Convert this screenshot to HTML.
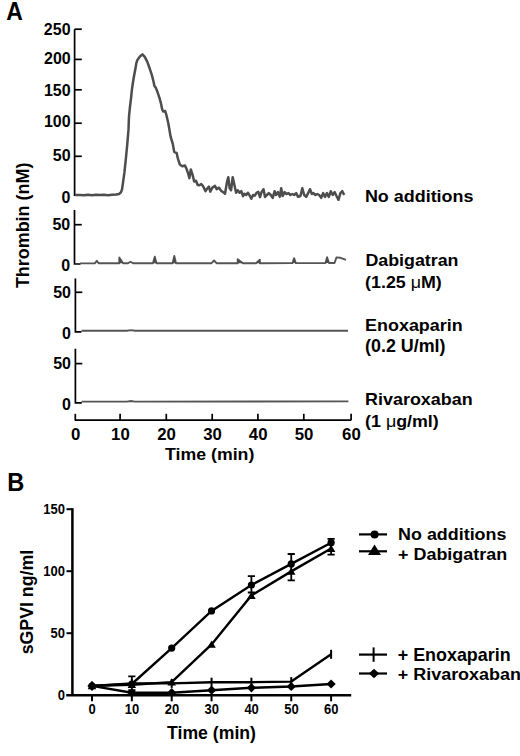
<!DOCTYPE html>
<html><head><meta charset="utf-8"><style>
html,body{margin:0;padding:0;background:#fff;overflow:hidden;}
svg{display:block;}
text{font-family:"Liberation Sans",sans-serif;font-weight:bold;fill:#000;}
</style></head><body>
<svg width="520" height="756" viewBox="0 0 520 756">
<rect width="520" height="756" fill="#fff"/>
<text transform="translate(6.23,20.05) scale(1,1.1431)" font-size="22.951" fill="#000"><tspan>A</tspan></text>
<path d="M74.6 29.2 V195.2 H81" stroke="#000" stroke-width="1.7" fill="none"/>
<path d="M74.6 29.2 H81.8" stroke="#000" stroke-width="1.7" fill="none"/>
<path d="M74.6 59.4 H81.8" stroke="#000" stroke-width="1.7" fill="none"/>
<path d="M74.6 89.8 H81.8" stroke="#000" stroke-width="1.7" fill="none"/>
<path d="M74.6 123.2 H81.8" stroke="#000" stroke-width="1.7" fill="none"/>
<path d="M74.6 156.3 H81.8" stroke="#000" stroke-width="1.7" fill="none"/>
<text transform="translate(70.55,34.60) scale(1,1.0400)" font-size="16" text-anchor="end">250</text>
<text transform="translate(70.75,63.50) scale(1,1.0400)" font-size="16" text-anchor="end">200</text>
<text transform="translate(70.65,95.85) scale(1,1.0400)" font-size="16" text-anchor="end">150</text>
<text transform="translate(70.65,127.15) scale(1,1.0400)" font-size="16" text-anchor="end">100</text>
<text transform="translate(70.55,160.85) scale(1,1.0400)" font-size="16" text-anchor="end">50</text>
<text transform="translate(70.35,202.75) scale(1,1.0400)" font-size="16" text-anchor="end">0</text>
<path d="M75 195 L80 194.9 L84 195.3 L88 194.8 L92 195.2 L96 194.7 L100 195.1 L104 194.8 L108 195.2 L112 194.8 L116 194.6 L119 194 L120.8 192.6 L122 189.5 L123 182.8 L124.4 172.7 L125.9 158.3 L127.3 143.9 L128.5 129.4 L129 116.4 L130 106.5 L131 98.6 L131.9 89.6 L132.9 82.7 L133.9 76.7 L135.4 68.8 L136.4 62.9 L137.4 59.9 L139.9 56.4 L142.4 54.4 L144.8 56.9 L147.3 61.9 L149.8 68.8 L151.8 74.8 L153.8 82.7 L154.3 85.7 L155.8 87.7 L157.7 92.6 L159.7 98.6 L161.2 104.5 L162.2 109.5 L163.2 111.5 L165.2 111 L166.4 115 L168.4 123.7 L170.6 136.6 L172.8 143.9 L174.2 151.8 L176.7 153.2 L177.8 158.3 L180 164.8 L182.2 166.2 L185 165.5 L186.4 168.6 L188.2 173.7 L189.4 178.1 L190.8 169.4 L192.5 174.6 L194.2 181.5 L196 180.7 L197.7 185 L199.4 185.3 L201.2 184.1 L202.9 185.9 L205.5 191.1 L207.2 188.5 L208.9 186.7 L210.3 191.6 L212.4 187.6 L215 185.9 L216.7 189.3 L218.8 187.6 L221.1 190.7 L222.8 191.9 L225 193.7 L227.1 181.5 L228.3 177.2 L229.7 188.5 L231.1 190.2 L232.7 177.2 L234.4 185 L236.1 192.8 L237.8 190.2 L239.6 192.8 L241.3 191.1 L243 196.2 L244.4 193.7 L246.2 195 L247.9 192.8 L249.6 195.4 L251.3 198.8 L253.1 195 L254.8 195.7 L256.5 192.8 L258.3 191.9 L260 197.1 L261.5 192.1 L263.5 189.2 L265 196.9 L266.9 195 L268.8 193.1 L270.8 195 L272.7 197.9 L274.6 191.2 L276 195 L277.9 192.1 L279.8 196.9 L281.2 188.3 L282.7 196 L284.6 192.1 L286.5 194 L288.5 193.1 L290.4 195 L292.3 194 L294.2 195 L296.2 193.1 L298.1 196.9 L300.4 196 L302.3 188.3 L304.2 195 L306.2 196.9 L308.1 193.1 L310 189.2 L311.9 194 L313.5 193.1 L315.4 195 L317.3 194 L319.2 195 L321.2 197.9 L323.1 193.1 L325 196.9 L326.9 193.1 L328.8 196.9 L330.8 191.2 L332.7 195 L334.6 192.1 L336.5 196 L338.5 199.8 L340.4 193.1 L342.3 191.2 L344.2 195" stroke="#4d4d4d" stroke-width="2.5" fill="none" stroke-linejoin="round"/>
<path d="M74.5 210 V264 H80.5" stroke="#000" stroke-width="1.7" fill="none"/>
<path d="M74.5 224.7 H81.8" stroke="#000" stroke-width="1.7" fill="none"/>
<text transform="translate(70.25,229.50) scale(1,1.0400)" font-size="16" text-anchor="end">50</text>
<text transform="translate(70.25,270.85) scale(1,1.0400)" font-size="16" text-anchor="end">0</text>
<path d="M80 263.4 L94.8 263.3 L96.8 260.8 L98.8 263.3 L119.3 263.3 L119.3 257.4 L123.1 263.3 L128 263.3 L130.5 261.8 L133 263.3 L152.9 263.2 L154.8 256.7 L156.5 263.2 L172.6 263.2 L174.3 256 L176 263.2 L211.5 263.2 L214.1 260.5 L216.5 263.2 L237.7 263.2 L237.7 259.2 L243 263.2 L256 263.2 L259.9 259.7 L259.9 263.2 L292.5 263.1 L294.1 258.1 L295.8 263.1 L325.5 263 L327.1 257.2 L329 263 L334.5 263 L336.5 257.4 L339.9 257.7 L346 259.8" stroke="#555" stroke-width="1.9" fill="none" stroke-linejoin="round"/>
<polygon points="119.3,263.3 119.3,257.4 123.1,263.3" fill="#4d4d4d"/>
<polygon points="152.9,263.2 154.8,256.7 156.5,263.2" fill="#4d4d4d"/>
<polygon points="172.6,263.2 174.3,256 176,263.2" fill="#4d4d4d"/>
<polygon points="237.7,263.2 237.7,259.2 243,263.2" fill="#4d4d4d"/>
<polygon points="256,263.2 259.9,259.7 259.9,263.2" fill="#4d4d4d"/>
<polygon points="292.5,263.1 294.1,258.1 295.8,263.1" fill="#4d4d4d"/>
<polygon points="325.5,263 327.1,257.2 329,263" fill="#4d4d4d"/>
<path d="M75.4 278.6 V331.9 H81.5" stroke="#000" stroke-width="1.7" fill="none"/>
<path d="M75.4 292.3 H82.3" stroke="#000" stroke-width="1.7" fill="none"/>
<text transform="translate(70.95,297.80) scale(1,1.0400)" font-size="16" text-anchor="end">50</text>
<text transform="translate(70.95,339.00) scale(1,1.0400)" font-size="16" text-anchor="end">0</text>
<path d="M81.5 330.7 L127 330.7 L130.8 330.1 L135 330.7 L348 330.7" stroke="#555" stroke-width="1.9" fill="none"/>
<path d="M75.4 348.8 V402.8 H81.8" stroke="#000" stroke-width="1.7" fill="none"/>
<path d="M75.4 363.6 H82.3" stroke="#000" stroke-width="1.7" fill="none"/>
<text transform="translate(70.95,368.70) scale(1,1.0400)" font-size="16" text-anchor="end">50</text>
<text transform="translate(70.95,410.35) scale(1,1.0400)" font-size="16" text-anchor="end">0</text>
<path d="M81.5 401.6 L127 401.6 L130.8 401.0 L135 401.6 L348.4 401.4" stroke="#555" stroke-width="1.9" fill="none"/>
<path d="M74.8 420.2 H351.2" stroke="#000" stroke-width="1.7" fill="none"/>
<path d="M75.3 413.8 V420.2" stroke="#000" stroke-width="1.7" fill="none"/>
<text transform="translate(75.60,440.30) scale(1,1.0000)" font-size="16.8" text-anchor="middle">0</text>
<path d="M120.1 413.8 V420.2" stroke="#000" stroke-width="1.7" fill="none"/>
<text transform="translate(120.40,440.30) scale(1,1.0000)" font-size="16.8" text-anchor="middle">10</text>
<path d="M166.3 413.8 V420.2" stroke="#000" stroke-width="1.7" fill="none"/>
<text transform="translate(166.60,440.30) scale(1,1.0000)" font-size="16.8" text-anchor="middle">20</text>
<path d="M212.2 413.8 V420.2" stroke="#000" stroke-width="1.7" fill="none"/>
<text transform="translate(212.50,440.30) scale(1,1.0000)" font-size="16.8" text-anchor="middle">30</text>
<path d="M257.9 413.8 V420.2" stroke="#000" stroke-width="1.7" fill="none"/>
<text transform="translate(258.20,440.30) scale(1,1.0000)" font-size="16.8" text-anchor="middle">40</text>
<path d="M303.8 413.8 V420.2" stroke="#000" stroke-width="1.7" fill="none"/>
<text transform="translate(304.10,440.30) scale(1,1.0000)" font-size="16.8" text-anchor="middle">50</text>
<path d="M351.1 413.8 V420.2" stroke="#000" stroke-width="1.7" fill="none"/>
<text transform="translate(351.40,440.30) scale(1,1.0000)" font-size="16.8" text-anchor="middle">60</text>
<text transform="translate(165.11,459.55) scale(1,0.9801)" font-size="17.722" fill="#000"><tspan>Time (min)</tspan></text>
<text transform="translate(28.95,288.10) rotate(-90) scale(1,1.0010)" font-size="17.933" fill="#000"><tspan font-weight="bold">Thrombin (nM)</tspan></text>
<text transform="translate(364.90,201.55) scale(1,0.9519)" font-size="17.942" fill="#000"><tspan>No additions</tspan></text>
<text transform="translate(365.41,266.35) scale(1,0.9174)" font-size="17.825" fill="#000"><tspan>Dabigatran</tspan></text>
<text transform="translate(365.11,288.35) scale(1,0.9657)" font-size="17.836" fill="#000"><tspan>(1.25 </tspan><tspan font-weight="normal" style="stroke-width:0">μ</tspan><tspan>M)</tspan></text>
<text transform="translate(365.10,331.25) scale(1,0.9610)" font-size="17.924" fill="#000"><tspan>Enoxaparin</tspan></text>
<text transform="translate(365.11,352.05) scale(1,0.9814)" font-size="17.882" fill="#000"><tspan>(0.2 U/ml)</tspan></text>
<text transform="translate(365.10,405.35) scale(1,0.9446)" font-size="17.926" fill="#000"><tspan>Rivaroxaban</tspan></text>
<text transform="translate(365.11,427.45) scale(1,0.9659)" font-size="17.832" fill="#000"><tspan>(1 </tspan><tspan font-weight="normal" style="stroke-width:0">μ</tspan><tspan>g/ml)</tspan></text>
<text transform="translate(7.22,491.25) scale(1,1.0929)" font-size="23.607" fill="#000"><tspan>B</tspan></text>
<path d="M72.4 508.2 V695.2" stroke="#000" stroke-width="2.5"/>
<path d="M66.2 695.2 H351.2" stroke="#000" stroke-width="2.4"/>
<path d="M66.5 633.2 H72.4" stroke="#000" stroke-width="2"/>
<text transform="translate(65.00,638.00) scale(1,1.0800)" font-size="13.0" text-anchor="end">50</text>
<path d="M66.5 571.2 H72.4" stroke="#000" stroke-width="2"/>
<text transform="translate(65.00,576.00) scale(1,1.0800)" font-size="13.0" text-anchor="end">100</text>
<path d="M66.5 509.2 H72.4" stroke="#000" stroke-width="2"/>
<text transform="translate(65.00,514.00) scale(1,1.0800)" font-size="13.0" text-anchor="end">150</text>
<text transform="translate(65.00,700.00) scale(1,1.0800)" font-size="13.0" text-anchor="end">0</text>
<path d="M92.0 695.2 V701.3" stroke="#000" stroke-width="2"/>
<text transform="translate(92.20,713.80) scale(1,1.0800)" font-size="13.0" text-anchor="middle">0</text>
<path d="M131.85 695.2 V701.3" stroke="#000" stroke-width="2"/>
<text transform="translate(132.05,713.80) scale(1,1.0800)" font-size="13.0" text-anchor="middle">10</text>
<path d="M171.7 695.2 V701.3" stroke="#000" stroke-width="2"/>
<text transform="translate(171.90,713.80) scale(1,1.0800)" font-size="13.0" text-anchor="middle">20</text>
<path d="M211.55 695.2 V701.3" stroke="#000" stroke-width="2"/>
<text transform="translate(211.75,713.80) scale(1,1.0800)" font-size="13.0" text-anchor="middle">30</text>
<path d="M251.4 695.2 V701.3" stroke="#000" stroke-width="2"/>
<text transform="translate(251.60,713.80) scale(1,1.0800)" font-size="13.0" text-anchor="middle">40</text>
<path d="M291.25 695.2 V701.3" stroke="#000" stroke-width="2"/>
<text transform="translate(291.45,713.80) scale(1,1.0800)" font-size="13.0" text-anchor="middle">50</text>
<path d="M331.1 695.2 V701.3" stroke="#000" stroke-width="2"/>
<text transform="translate(331.30,713.80) scale(1,1.0800)" font-size="13.0" text-anchor="middle">60</text>
<text transform="translate(167.01,738.85) scale(1,1.0246)" font-size="17.661" fill="#000"><tspan>Time (min)</tspan></text>
<text transform="translate(33.15,654.32) rotate(-90) scale(1,1.0217)" font-size="17.739" fill="#000"><tspan font-weight="bold">sGPVI ng/ml</tspan></text>
<path d="M92.0 685.9 L131.85 684.0 L171.7 648.1 L211.55 610.9 L251.4 585.0 L291.25 563.9 L331.1 542.7" stroke="#000" stroke-width="2.4" fill="none"/>
<path d="M92.0 685.9 L131.85 684.7 L171.7 682.2 L211.55 644.4 L251.4 595.5 L291.25 571.4 L331.1 548.5" stroke="#000" stroke-width="2.4" fill="none"/>
<path d="M92.0 685.9 L131.85 683.4 L171.7 683.4 L211.55 682.2 L251.4 682.2 L291.25 681.6 L331.1 654.3" stroke="#000" stroke-width="2.4" fill="none"/>
<path d="M92.0 685.9 L131.85 692.7 L171.7 692.7 L211.55 690.2 L251.4 687.8 L291.25 686.5 L331.1 684.0" stroke="#000" stroke-width="2.4" fill="none"/>
<circle cx="92.0" cy="685.9" r="3.6" fill="#000"/>
<circle cx="131.85" cy="684.0" r="3.6" fill="#000"/>
<circle cx="171.7" cy="648.1" r="3.6" fill="#000"/>
<circle cx="211.55" cy="610.9" r="3.6" fill="#000"/>
<circle cx="251.4" cy="585.0" r="3.6" fill="#000"/>
<circle cx="291.25" cy="563.9" r="3.6" fill="#000"/>
<circle cx="331.1" cy="542.7" r="3.6" fill="#000"/>
<path d="M92.0 682.1 L96.3 689.3 L87.7 689.3Z" fill="#000"/>
<path d="M131.8 680.8 L136.1 688.0 L127.6 688.0Z" fill="#000"/>
<path d="M171.7 678.4 L176.0 685.6 L167.4 685.6Z" fill="#000"/>
<path d="M211.6 640.5 L215.8 647.7 L207.3 647.7Z" fill="#000"/>
<path d="M251.4 591.7 L255.7 598.9 L247.1 598.9Z" fill="#000"/>
<path d="M291.2 567.6 L295.5 574.8 L287.0 574.8Z" fill="#000"/>
<path d="M331.1 544.7 L335.4 551.9 L326.8 551.9Z" fill="#000"/>
<path d="M92.0 681.4 V690.4" stroke="#000" stroke-width="2"/>
<path d="M131.85 678.9 V687.9" stroke="#000" stroke-width="2"/>
<path d="M171.7 678.9 V687.9" stroke="#000" stroke-width="2"/>
<path d="M211.55 677.7 V686.7" stroke="#000" stroke-width="2"/>
<path d="M251.4 677.7 V686.7" stroke="#000" stroke-width="2"/>
<path d="M291.25 677.1 V686.1" stroke="#000" stroke-width="2"/>
<path d="M331.1 649.8 V658.8" stroke="#000" stroke-width="2"/>
<path d="M92.0 681.3 L96.6 685.9 L92.0 690.5 L87.4 685.9Z" fill="#000"/>
<path d="M131.8 688.1 L136.4 692.7 L131.8 697.3 L127.2 692.7Z" fill="#000"/>
<path d="M171.7 688.1 L176.3 692.7 L171.7 697.3 L167.1 692.7Z" fill="#000"/>
<path d="M211.6 685.6 L216.2 690.2 L211.6 694.8 L207.0 690.2Z" fill="#000"/>
<path d="M251.4 683.2 L256.0 687.8 L251.4 692.4 L246.8 687.8Z" fill="#000"/>
<path d="M291.2 681.9 L295.9 686.5 L291.2 691.1 L286.6 686.5Z" fill="#000"/>
<path d="M331.1 679.4 L335.7 684.0 L331.1 688.6 L326.5 684.0Z" fill="#000"/>
<path d="M131.85 676.4 V690.2 M128.25 676.4 H135.45 M128.25 690.2 H135.45" stroke="#000" stroke-width="1.8" fill="none"/>
<path d="M251.4 576.2 V592.5 M247.8 576.2 H255.0 M247.8 592.5 H255.0" stroke="#000" stroke-width="1.8" fill="none"/>
<path d="M291.25 554.0 V580.4 M287.65 554.0 H294.85 M287.65 580.4 H294.85" stroke="#000" stroke-width="1.8" fill="none"/>
<path d="M331.1 538.9 V554.6 M327.5 538.9 H334.70000000000005 M327.5 554.6 H334.70000000000005" stroke="#000" stroke-width="1.8" fill="none"/>
<path d="M359 534.4 H387" stroke="#000" stroke-width="2.2"/>
<circle cx="374.6" cy="534.4" r="4.0" fill="#000"/>
<path d="M359 551.3 H387" stroke="#000" stroke-width="2.2"/>
<path d="M374.5 544.5 L381 554.9 L368 554.9Z" fill="#000"/>
<path d="M359 654.6 H387" stroke="#000" stroke-width="2.2"/>
<path d="M373.6 647.4 V661.8000000000001" stroke="#000" stroke-width="2"/>
<path d="M359 673.5 H387" stroke="#000" stroke-width="2.2"/>
<path d="M374.0 668.7 L379.2 673.5 L374.0 678.3 L368.8 673.5Z" fill="#000"/>
<text transform="translate(398.10,539.65) scale(1,0.9618)" font-size="17.908" fill="#000"><tspan>No additions</tspan></text>
<text transform="translate(398.05,560.05) scale(1,0.9366)" font-size="17.923" fill="#000"><tspan>+ Dabigatran</tspan></text>
<text transform="translate(397.75,660.65) scale(1,0.9862)" font-size="17.908" fill="#000"><tspan>+ Enoxaparin</tspan></text>
<text transform="translate(397.75,680.35) scale(1,0.9348)" font-size="17.959" fill="#000"><tspan>+ Rivaroxaban</tspan></text>
</svg>
</body></html>
